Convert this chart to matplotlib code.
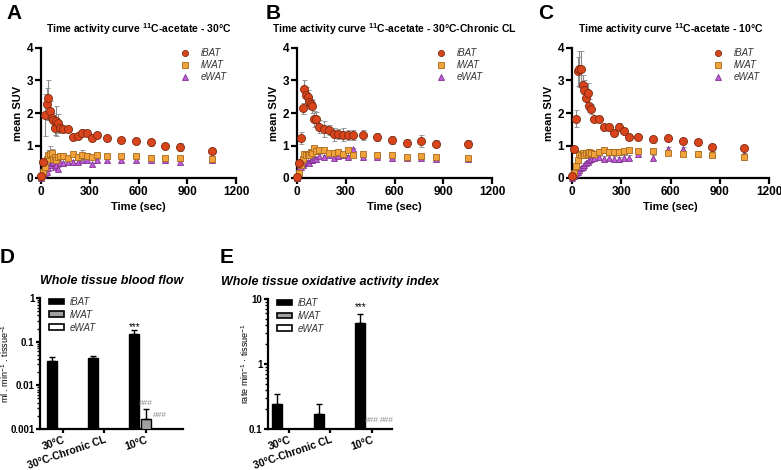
import matplotlib
matplotlib.use("Agg")
import matplotlib.pyplot as plt
import numpy as np
from matplotlib.patches import Patch
from matplotlib.lines import Line2D

plt.rcParams["font.family"] = ["Liberation Sans", "DejaVu Sans"]
plt.rcParams["mathtext.fontset"] = "custom"
plt.rcParams["mathtext.rm"] = "Liberation Sans"
plt.rcParams["mathtext.bf"] = "Liberation Sans:bold"

W, H = 781, 470

# ── time activity curves (sec, mean SUV) ────────────────────────────────────
TIME = [0, 12, 25, 35, 45, 55, 65, 75, 85, 95, 105, 115, 135, 165, 195, 225,
        255, 285, 315, 345, 405, 495, 585, 675, 765, 855, 1050]

A_IBAT = [0.05, 0.5, 1.94, 2.28, 2.47, 2.07, 1.84, 1.77, 1.53, 1.75, 1.68, 1.55, 1.50, 1.50,
          1.26, 1.28, 1.40, 1.38, 1.24, 1.33, 1.22, 1.17, 1.15, 1.10, 0.98, 0.95, 0.83]
A_IBAT_E = [0.02, 0.1, 0.65, 0.5, 0.55, 0.3, 0.15, 0.15, 0.2, 0.45, 0.3, 0.1, 0.08, 0.08,
            0.1, 0.08, 0.12, 0.1, 0.1, 0.08, 0.08, 0.1, 0.08, 0.1, 0.08, 0.12, 0.08]
A_IWAT = [0.03, 0.2, 0.35, 0.6, 0.7, 0.75, 0.78, 0.6, 0.65, 0.55, 0.65, 0.68, 0.68, 0.62,
          0.73, 0.65, 0.7, 0.68, 0.65, 0.72, 0.68, 0.67, 0.67, 0.62, 0.63, 0.62, 0.6]
A_IWAT_E = [0.02, 0.1, 0.15, 0.15, 0.15, 0.22, 0.1, 0.1, 0.1, 0.1, 0.1, 0.08, 0.08, 0.08,
            0.06, 0.08, 0.15, 0.08, 0.06, 0.06, 0.06, 0.06, 0.05, 0.05, 0.05, 0.05, 0.05]
A_EWAT = [0.0, 0.1, 0.15, 0.2, 0.3, 0.4, 0.45, 0.5, 0.35, 0.4, 0.28, 0.45, 0.45, 0.5,
          0.5, 0.5, 0.55, 0.55, 0.42, 0.55, 0.55, 0.55, 0.55, 0.55, 0.55, 0.48, 0.55]
A_EWAT_E = [0.02, 0.05, 0.05, 0.05, 0.06, 0.06, 0.06, 0.06, 0.06, 0.06, 0.06, 0.05, 0.05, 0.05,
            0.05, 0.05, 0.05, 0.05, 0.05, 0.05, 0.05, 0.05, 0.05, 0.05, 0.05, 0.05, 0.05]

B_IBAT = [0.03, 0.45, 1.24, 2.14, 2.73, 2.55, 2.5, 2.33, 2.28, 2.2, 1.82, 1.82, 1.58, 1.5,
          1.47, 1.35, 1.35, 1.33, 1.33, 1.33, 1.33, 1.25, 1.18, 1.08, 1.13, 1.06, 1.04]
B_IBAT_E = [0.02, 0.08, 0.18, 0.18, 0.28, 0.25, 0.2, 0.2, 0.15, 0.2, 0.25, 0.2, 0.2, 0.25,
            0.15, 0.2, 0.15, 0.2, 0.15, 0.15, 0.15, 0.12, 0.12, 0.12, 0.18, 0.12, 0.12]
B_IWAT = [0.02, 0.15, 0.4, 0.58, 0.75, 0.72, 0.75, 0.72, 0.8, 0.78, 0.92, 0.82, 0.85, 0.85,
          0.78, 0.78, 0.8, 0.75, 0.85, 0.72, 0.75, 0.7, 0.72, 0.65, 0.68, 0.65, 0.62]
B_IWAT_E = [0.02, 0.05, 0.08, 0.08, 0.08, 0.08, 0.08, 0.08, 0.08, 0.08, 0.08, 0.08, 0.08, 0.08,
            0.06, 0.06, 0.06, 0.06, 0.06, 0.06, 0.06, 0.06, 0.05, 0.05, 0.05, 0.05, 0.05]
B_EWAT = [0.0, 0.3, 0.35, 0.4, 0.45, 0.5, 0.5, 0.45, 0.55, 0.55, 0.6, 0.6, 0.68, 0.65,
          0.72, 0.62, 0.68, 0.7, 0.65, 0.88, 0.65, 0.65, 0.62, 0.62, 0.62, 0.58, 0.58]
B_EWAT_E = [0.02, 0.05, 0.05, 0.05, 0.06, 0.06, 0.06, 0.06, 0.06, 0.06, 0.06, 0.05, 0.05, 0.05,
            0.05, 0.05, 0.05, 0.05, 0.05, 0.05, 0.05, 0.05, 0.05, 0.05, 0.05, 0.05, 0.05]

C_IBAT = [0.05, 0.88, 1.83, 3.28, 3.36, 3.35, 2.87, 2.72, 2.45, 2.62, 2.23, 2.13, 1.82, 1.81,
          1.57, 1.56, 1.39, 1.58, 1.46, 1.27, 1.27, 1.19, 1.23, 1.13, 1.11, 0.96, 0.93]
C_IBAT_E = [0.02, 0.08, 0.25, 0.45, 0.55, 0.55, 0.3, 0.3, 0.2, 0.3, 0.2, 0.15, 0.1, 0.1,
            0.08, 0.1, 0.1, 0.1, 0.08, 0.06, 0.06, 0.1, 0.06, 0.06, 0.06, 0.08, 0.06]
C_IWAT = [0.05, 0.15, 0.38, 0.55, 0.75, 0.72, 0.78, 0.7, 0.78, 0.75, 0.8, 0.78, 0.75, 0.8,
          0.85, 0.8, 0.8, 0.8, 0.82, 0.85, 0.82, 0.83, 0.78, 0.75, 0.73, 0.72, 0.65]
C_IWAT_E = [0.02, 0.05, 0.08, 0.08, 0.08, 0.08, 0.08, 0.08, 0.08, 0.08, 0.08, 0.08, 0.08, 0.08,
            0.08, 0.08, 0.1, 0.08, 0.08, 0.08, 0.06, 0.06, 0.06, 0.06, 0.05, 0.05, 0.1]
C_EWAT = [0.0, 0.05, 0.12, 0.2, 0.25, 0.3, 0.35, 0.4, 0.45, 0.5, 0.55, 0.58, 0.62, 0.65,
          0.6, 0.62, 0.6, 0.58, 0.62, 0.62, 0.75, 0.62, 0.88, 0.88, 0.75, 0.75, 0.7]
C_EWAT_E = [0.02, 0.04, 0.05, 0.05, 0.05, 0.06, 0.06, 0.06, 0.06, 0.06, 0.06, 0.06, 0.06, 0.06,
            0.08, 0.08, 0.08, 0.08, 0.08, 0.08, 0.08, 0.08, 0.08, 0.08, 0.08, 0.08, 0.08]

# ── bar panels ───────────────────────────────────────────────────────────────
GROUPS = ["30°C", "30°C-Chronic CL", "10°C"]
TISSUES = ["iBAT", "iWAT", "eWAT"]
D_IBAT, D_IBAT_E = [0.037, 0.042, 0.15], [0.007, 0.006, 0.035]
D_IWAT, D_IWAT_E = [np.nan, np.nan, 0.0017], [0, 0, 0.0011]
E_IBAT, E_IBAT_E = [0.24, 0.17, 4.2], [0.1, 0.07, 1.6]

IBAT_C, IBAT_EC = "#D9441C", "#7A2A10"
IWAT_C, IWAT_EC = "#F2A23A", "#A86A1E"
EWAT_C, EWAT_EC = "#C45AD6", "#7E3391"
ERR_C = "#8A8A8A"


def add_ax(l, t, r, b):
    return fig.add_axes([l / W, 1 - b / H, (r - l) / W, (b - t) / H])


def prism(ax, size=8.5, length=4, pad=1.5):
    for s in ("top", "right"):
        ax.spines[s].set_visible(False)
    for s in ("left", "bottom"):
        ax.spines[s].set_linewidth(1.6)
    ax.tick_params(width=1.6, length=length, labelsize=size, pad=pad)
    for lab in ax.get_xticklabels() + ax.get_yticklabels():
        lab.set_fontweight("bold")


def tac(ax, title, series):
    specs = [("iBAT", "o", IBAT_C, IBAT_EC, 5.8, 5),
             ("iWAT", "s", IWAT_C, IWAT_EC, 5.0, 4),
             ("eWAT", "^", EWAT_C, EWAT_EC, 5.0, 3)]
    handles = []
    for (name, m, fc, ec, ms, z), (y, e) in zip(specs, series):
        ax.errorbar(TIME, y, yerr=e, fmt=m, ms=ms, mfc=fc, mec=ec, mew=0.6,
                    ecolor=ERR_C, elinewidth=0.8, capsize=1.8, capthick=0.8,
                    zorder=z, clip_on=False)
        handles.append(Line2D([], [], ls="none", marker=m, ms=4.4, mfc=fc, mec=ec,
                              mew=0.6, label=name))
    ax.set_xlim(0, 1200)
    ax.set_ylim(0, 4)
    ax.set_xticks([0, 300, 600, 900, 1200])
    ax.set_yticks([0, 1, 2, 3, 4])
    ax.set_xlabel("Time (sec)", fontsize=8, fontweight="bold", labelpad=3)
    ax.set_ylabel("mean SUV", fontsize=8, fontweight="bold", labelpad=3)
    ax.set_title(title, fontsize=7.5, fontweight="bold", pad=11)
    prism(ax)
    leg = ax.legend(handles=handles, loc="upper right", bbox_to_anchor=(0.985, 1.045),
                    frameon=False, fontsize=7, handletextpad=0.6, labelspacing=0.22,
                    borderaxespad=0.2)
    for txt in leg.get_texts():
        txt.set_fontstyle("italic")
        txt.set_color("#333333")


def bars(ax, ibat, ibat_e, iwat, iwat_e, ylim, title, ylabel, tsize):
    x = np.arange(len(GROUPS))
    bw = 0.24
    ax.bar(x - 0.28, ibat, bw, color="black", edgecolor="black", lw=1.0,
           yerr=[np.zeros(3), ibat_e], error_kw=dict(ecolor="black", elinewidth=1.0,
                                                     capsize=2, capthick=1.0), zorder=3)
    if iwat is not None:
        ax.bar(x, iwat, bw, color="#A0A0A0", edgecolor="black", lw=1.0,
               yerr=[np.zeros(3), iwat_e], error_kw=dict(ecolor="black", elinewidth=1.0,
                                                         capsize=2, capthick=1.0), zorder=3)
    ax.set_yscale("log")
    ax.set_ylim(*ylim)
    ax.set_xlim(-0.56, 2.9)
    ax.set_xticks(x)
    ax.set_xticklabels(GROUPS, rotation=19, ha="right", rotation_mode="anchor")
    ax.set_title(title, fontsize=tsize, fontweight="bold", style="italic", pad=10)
    ax.set_ylabel(ylabel, fontsize=6.5)
    prism(ax, size=7, length=3, pad=1)
    ax.tick_params(axis="y", which="minor", width=1.0, length=2)
    ax.tick_params(axis="x", labelsize=7.5, pad=1)
    for lab in ax.get_xticklabels():
        lab.set_fontweight("bold")
    handles = [Patch(facecolor="black", edgecolor="black", lw=1.2),
               Patch(facecolor="#A0A0A0", edgecolor="black", lw=1.2),
               Patch(facecolor="white", edgecolor="black", lw=1.2)]
    leg = ax.legend(handles, TISSUES, loc="upper left", bbox_to_anchor=(0.0, 1.075),
                    frameon=False, fontsize=7, handlelength=1.6, handleheight=0.55,
                    labelspacing=0.3, handletextpad=0.6)
    for txt in leg.get_texts():
        txt.set_fontstyle("italic")
        txt.set_color("#333333")
    return x


fig = plt.figure(figsize=(W / 100, H / 100), dpi=100)

axA = add_ax(41, 48, 236, 178)
tac(axA, r"Time activity curve $^{\mathbf{11}}$C-acetate - 30°C",
    [(A_IBAT, A_IBAT_E), (A_IWAT, A_IWAT_E), (A_EWAT, A_EWAT_E)])
axB = add_ax(297, 48, 492, 178)
tac(axB, r"Time activity curve $^{\mathbf{11}}$C-acetate - 30°C-Chronic CL",
    [(B_IBAT, B_IBAT_E), (B_IWAT, B_IWAT_E), (B_EWAT, B_EWAT_E)])
axC = add_ax(572, 48, 769, 178)
tac(axC, r"Time activity curve $^{\mathbf{11}}$C-acetate - 10°C",
    [(C_IBAT, C_IBAT_E), (C_IWAT, C_IWAT_E), (C_EWAT, C_EWAT_E)])

axD = add_ax(40, 298, 183, 429)
x = bars(axD, D_IBAT, D_IBAT_E, D_IWAT, D_IWAT_E, (0.001, 1), "Whole tissue blood flow",
         r"ml . min$^{-1}$ . tissue$^{-1}$", 9)
axD.set_yticks([0.001, 0.01, 0.1, 1])
axD.set_yticklabels(["0.001", "0.01", "0.1", "1"], fontweight="bold")
axD.yaxis.set_label_coords((11 - 40) / 143, 0.5)
axD.text(x[2] - 0.28, 0.22, "***", ha="center", va="center", fontsize=7)
axD.text(x[2], 0.0038, "###", ha="center", va="center", fontsize=6, color="#8A8A8A")
axD.text(x[2] + 0.34, 0.002, "###", ha="center", va="center", fontsize=6, color="#8A8A8A")

axE = add_ax(268, 299, 392, 429)
x = bars(axE, E_IBAT, E_IBAT_E, None, None, (0.1, 10), "Whole tissue oxidative activity index",
         r"rate min$^{-1}$ · tissue$^{-1}$", 9)
axE.set_xlim(-0.5, 2.48)
axE.set_yticks([0.1, 1, 10])
axE.set_yticklabels(["0.1", "1", "10"], fontweight="bold")
axE.yaxis.set_label_coords((251 - 268) / 124, 0.5)
axE.text(x[2] - 0.28, 7.4, "***", ha="center", va="center", fontsize=7)
axE.text(x[2], 0.135, "###", ha="center", va="center", fontsize=6, color="#8A8A8A")
axE.text(x[2] + 0.36, 0.135, "###", ha="center", va="center", fontsize=6, color="#8A8A8A")

for lab, px, py in [("A", 6, 4), ("B", 266, 4), ("C", 538, 4), ("D", 0, 248), ("E", 220, 248)]:
    fig.text(px / W, 1 - py / H, lab, fontsize=15, fontweight="bold", va="top", ha="left")

fig.savefig("out.png", dpi=100)
